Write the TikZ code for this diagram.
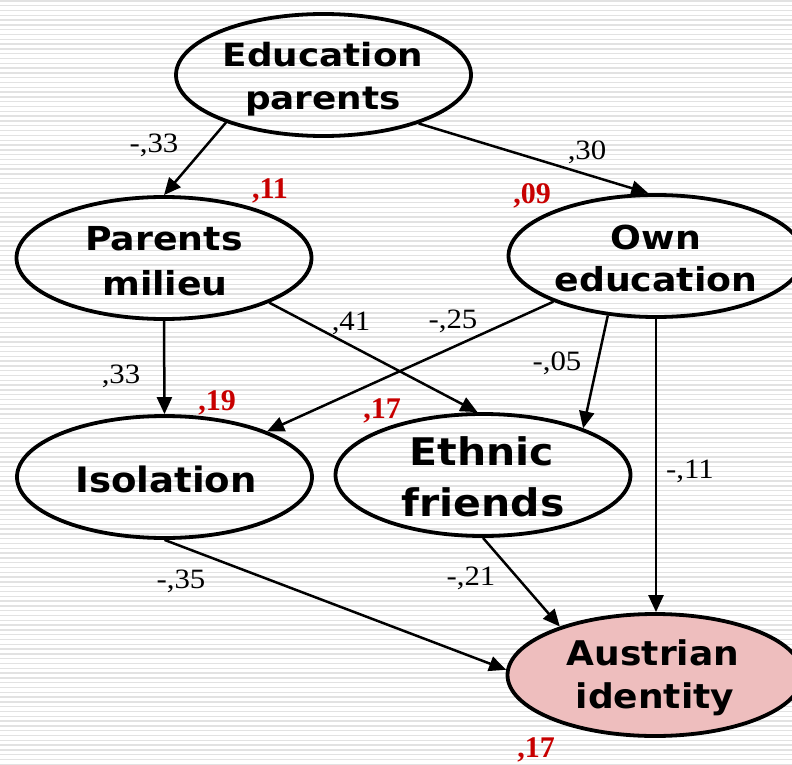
\documentclass[tikz,border=0pt]{standalone}
\usepackage{fontspec}
\usetikzlibrary{arrows.meta,shapes.geometric}
\newfontfamily\nfA{DejaVu Sans}[FakeStretch=1.12]
\newfontfamily\nfB{DejaVu Sans}[FakeStretch=1.10]
\newfontfamily\nfC{DejaVu Sans}[FakeStretch=1.06]
\newfontfamily\nfD{DejaVu Sans}[FakeStretch=1.08]
\newfontfamily\lfont{Liberation Serif}[FakeStretch=1.1]
\newfontfamily\rfont{Liberation Serif}
\definecolor{stripe}{RGB}{226,226,226}
\definecolor{pinkfill}{RGB}{238,190,190}
\definecolor{coefred}{RGB}{200,0,0}
\tikzset{
  var/.style={draw=black, line width=3.8pt, ellipse, minimum width=295pt, minimum height=122pt, inner sep=0pt},
  idvar/.style={var, fill=pinkfill},
  vt/.style={inner sep=0pt, anchor=base, text=black},
  coef/.style={inner sep=0pt, anchor=base, font=\lfont\fontsize{28}{32}\selectfont},
  rcoef/.style={inner sep=0pt, anchor=base, text=coefred, font=\rfont\bfseries\fontsize{30}{34}\selectfont},
  arr/.style={line width=2.5pt, -{Triangle[length=17pt,width=15pt]}},
  stripeline/.style={stripe, line width=1.4pt}
}
\begin{document}
\begin{tikzpicture}[x=1pt,y=-1pt]
\useasboundingbox (0,0) rectangle (792,765);
\fill[white] (0,0) rectangle (792,765);
\foreach \i in {0,...,159} \draw[stripeline] (0,{\i*4.8+1}) -- (792,{\i*4.8+1});

% ellipses
\node[var] (EP) at (323.5,75) {};
\node[var] (PM) at (164,258) {};
\node[var] (OE) at (656,256) {};
\node[var] (IS) at (164.5,477) {};
\node[var] (EF) at (483,475) {};
\node[idvar] (AI) at (655,675) {};

% texts
\node[vt, font=\nfA\bfseries\fontsize{32}{38}\selectfont] (EPa) at (323,67) {Education};
\node[vt, font=\nfA\bfseries\fontsize{32}{38}\selectfont] (EPb) at (323,110) {parents};
\node[vt, font=\nfB\bfseries\fontsize{33}{38}\selectfont] (PMa) at (164,250.7) {Parents};
\node[vt, font=\nfB\bfseries\fontsize{33}{38}\selectfont] (PMb) at (165,295) {milieu};
\node[vt, font=\nfB\bfseries\fontsize{33}{38}\selectfont] (OEa) at (656,249) {Own};
\node[vt, font=\nfB\bfseries\fontsize{33}{38}\selectfont] (OEb) at (656,291.7) {education};
\node[vt, font=\nfC\bfseries\fontsize{35}{40}\selectfont] (ISa) at (166,492.7) {Isolation};
\node[vt, font=\nfD\bfseries\fontsize{38}{44}\selectfont] (EFa) at (482,465) {Ethnic};
\node[vt, font=\nfD\bfseries\fontsize{38}{44}\selectfont] (EFb) at (483,516.7) {friends};
\node[vt, font=\nfC\bfseries\fontsize{34}{40}\selectfont] (AIa) at (653,665) {Austrian};
\node[vt, font=\nfC\bfseries\fontsize{34}{40}\selectfont] (AIb) at (655,708) {identity};

% arrows
\draw[arr] (EP.206.4) -- (PM.north);
\draw[arr] (EP.-27.4) -- (OE.97.2);
\draw[arr] (PM.south) -- (IS.north);
\draw[arr] (PM.-23.9) -- (EF.95.4);
\draw[arr] (OE.204.3) -- (IS.24.7);
\draw[arr] (OE.231.7) -- (EF.25.6);
\draw[arr] (OE.south) -- (OE.south |- AI.north);
\draw[arr] (IS.south) -- (AI.178);
\draw[arr] (EF.south) -- (AI.153.2);

% path coefficients
\node[coef] (k1) at (154,152.7) {-,33};
\node[coef] (k2) at (587,160) {,30};
\node[coef] (k3) at (351,330) {,41};
\node[coef] (k4) at (453,328.3) {-,25};
\node[coef] (k5) at (121,383) {,33};
\node[coef] (k6) at (557,370.7) {-,05};
\node[coef] (k7) at (690,478) {-,11};
\node[coef] (k8) at (181,588) {-,35};
\node[coef] (k9) at (471,585) {-,21};

% explained variance
\node[rcoef] (r1) at (270,198.3) {,11};
\node[rcoef] (r2) at (532,203) {,09};
\node[rcoef] (r3) at (217,410) {,19};
\node[rcoef] (r4) at (382,418.3) {,17};
\node[rcoef] (r5) at (536,757) {,17};
\end{tikzpicture}
\end{document}
